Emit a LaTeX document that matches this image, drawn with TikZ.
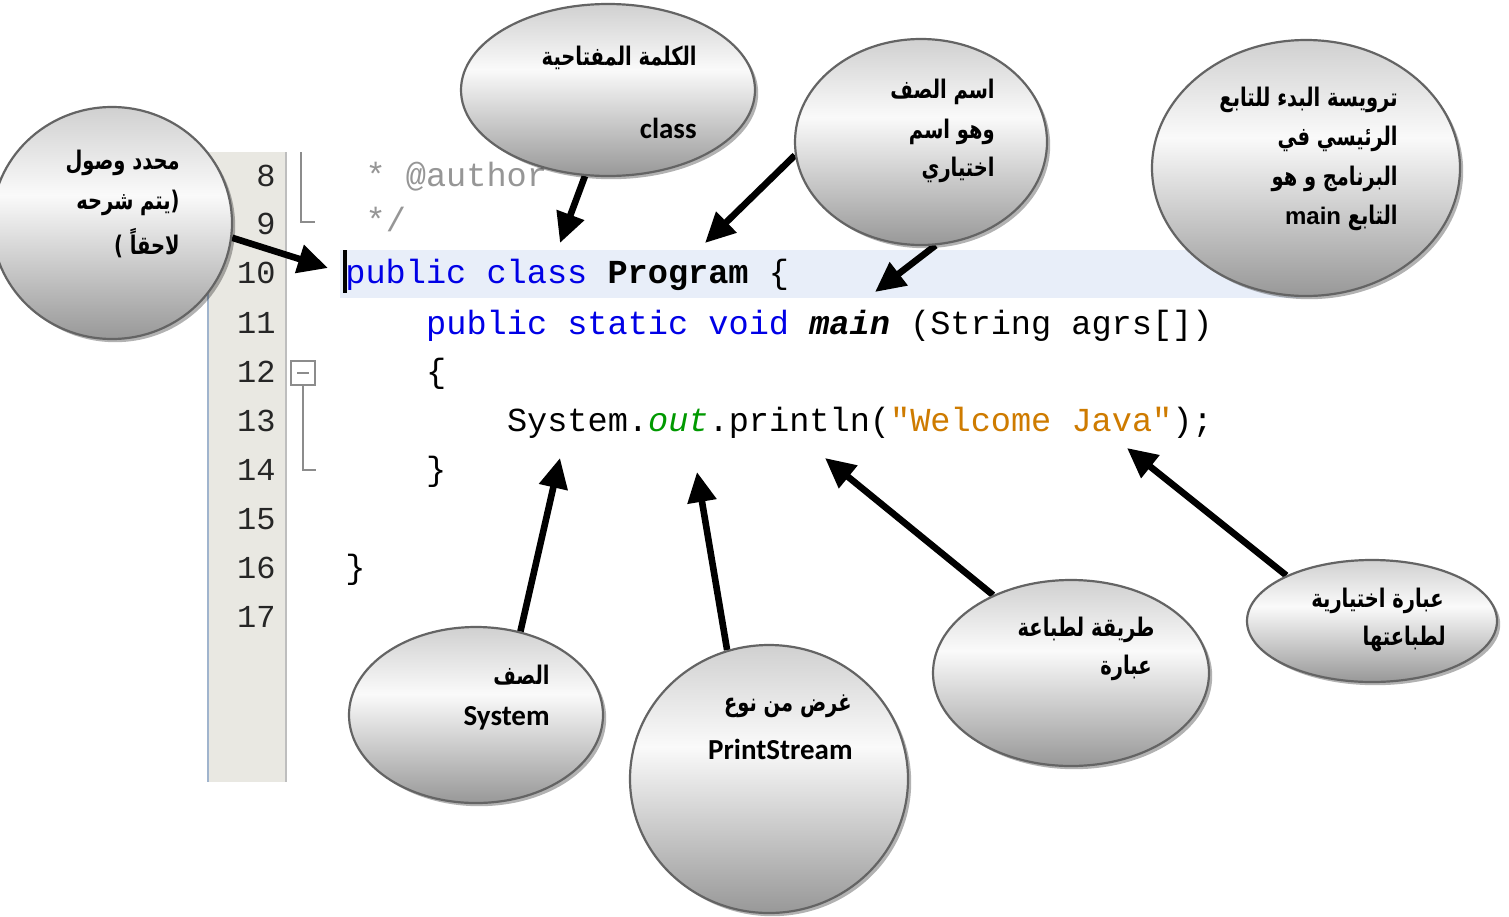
\documentclass[tikz,border=0pt]{standalone}
\usepackage{fontspec}
\usetikzlibrary{shapes.geometric,arrows.meta,shadows}
\TeXXeTstate=1
\newfontfamily\arabicfont[Script=Arabic,FakeStretch=0.76]{DejaVu Sans}
\newfontfamily\calfont{Carlito}
\newfontfamily\arialfont{Liberation Sans}
\newfontfamily\codefont[Ligatures=TeXOff]{Liberation Mono}

\definecolor{kw}{RGB}{0,0,230}
\definecolor{strc}{RGB}{206,123,0}
\definecolor{grn}{RGB}{0,153,0}
\definecolor{cmt}{RGB}{150,150,150}
\definecolor{band}{RGB}{232,238,249}
\definecolor{gutter}{RGB}{233,232,226}
\definecolor{gutteredge}{RGB}{190,190,190}
\definecolor{gutterleft}{RGB}{160,180,205}
\definecolor{foldc}{RGB}{140,140,140}
\definecolor{bedge}{RGB}{100,100,100}
\definecolor{bbot}{RGB}{152,152,152}
\definecolor{bmid}{RGB}{250,250,250}
\definecolor{btop}{RGB}{208,208,208}

\pgfdeclareverticalshading{bubble}{100bp}{color(0bp)=(bbot); color(25bp)=(bbot); color(56bp)=(bmid); color(75bp)=(btop); color(100bp)=(btop)}

\pgfdeclarelayer{editor}
\pgfdeclarelayer{links}
\pgfsetlayers{editor,links,main}

\newcommand\artext[1]{{\arabicfont\bfseries\fontsize{12.8}{15}\selectfont\beginR #1\endR}}
\newcommand\caltext[1]{{\calfont\bfseries\fontsize{14.5}{17}\selectfont #1}}
\newcommand\arialtext[1]{{\arialfont\bfseries\fontsize{12}{14}\selectfont #1}}

\tikzset{
  bubble/.style={ellipse, draw=bedge, line width=1.1pt, shading=bubble, inner sep=0pt,
    drop shadow={shadow xshift=1.6pt, shadow yshift=-1.6pt, fill=black, opacity=0.3}},
  lab/.style={inner sep=0pt, anchor=east},
  code/.style={inner sep=0pt, anchor=base west, font=\codefont\fontsize{16.8}{20}\selectfont},
  lnum/.style={inner sep=0pt, anchor=base east, text=black!85, font=\codefont\fontsize{16}{20}\selectfont},
  fold/.style={draw=foldc, line width=0.6pt},
  arr/.style={line width=3.3pt, -{Triangle[length=15pt,width=14pt]}}
}

\begin{document}
\begin{tikzpicture}[x=0.5pt,y=-0.5pt]
  \begin{pgfonlayer}{editor}
  % page
  \fill[white] (0,0) rectangle (1509,916);

  % editor gutter
  \fill[gutter] (208,152) rectangle (286,782);
  \draw[gutterleft, line width=0.8pt] (208,152) -- (208,782);
  \draw[gutteredge, line width=0.8pt] (286,152) -- (286,782);

  % current line highlight and caret
  \fill[band] (340,250) rectangle (1300,298);
  \draw[line width=2.4pt] (345,250) -- (345,293);

  % line numbers
  \foreach \n/\yy in {8/177,9/225,10/274,11/324,12/373,13/422,14/471,15/520,16/569,17/618}
    \node[lnum] (ln\n) at (276,\yy+9) {\n};

  % fold markers
  \draw[fold] (301,152) |- (315,222);
  \node[draw=foldc, fill=white, line width=0.6pt, minimum size=12pt, inner sep=0pt] (fb) at (303,373) {};
  \draw[fold] (297,373) -- (309,373);
  \draw[fold] (fb.south) |- (316,470);

  % source code
  \node[code] (c8)  at (365.2,186) {\textcolor{cmt}{* @author}};
  \node[code] (c9)  at (365.2,231) {\textcolor{cmt}{*/}};
  \node[code] (c10) at (345,283) {\textcolor{kw}{public class} \textbf{Program} \{};
  \node[code] (c11) at (425.8,334) {\textcolor{kw}{public static void} \textbf{\textit{main}} (String agrs[])};
  \node[code] (c12) at (425.8,382) {\{};
  \node[code] (c13) at (506.6,431) {System.\textcolor{grn}{\textit{out}}.println(\textcolor{strc}{"Welcome Java"});};
  \node[code] (c14) at (425.8,480) {\}};
  \node[code] (c16) at (345,578) {\}};
  \end{pgfonlayer}
  \useasboundingbox (0,0) rectangle (1509,916);

  % arrow tips
  \coordinate (tip1) at (328,268);
  \coordinate (tip2) at (560,243);
  \coordinate (tip3) at (705,243);
  \coordinate (tip4) at (875,292);
  \coordinate (tip5) at (560,458);
  \coordinate (tip6) at (697,472);
  \coordinate (tip7) at (825,458);
  \coordinate (tip8) at (1127,448);

  % callout bubbles
  \path
    (112,223)  node[bubble, minimum width=120pt, minimum height=116pt] (e1) {}
    (608,90)   node[bubble, minimum width=147pt, minimum height=86pt]  (e2) {}
    (921,142)  node[bubble, minimum width=126pt, minimum height=103pt] (e3) {}
    (1306,168) node[bubble, minimum width=154pt, minimum height=128pt] (e4) {}
    (476,715)  node[bubble, minimum width=127pt, minimum height=88pt]  (e5) {}
    (769,779)  node[bubble, minimum width=139pt, minimum height=134pt] (e6) {}
    (1071,673) node[bubble, minimum width=138pt, minimum height=93pt]  (e7) {}
    (1372,621) node[bubble, minimum width=125pt, minimum height=61pt]  (e8) {};

  % arrows, kept beneath the bubbles
  \begin{pgfonlayer}{links}
  \draw[arr] (e1.-7)   -- (tip1);
  \draw[arr] (e2.-105) -- (tip2);
  \draw[arr] (e3.186)  -- (tip3);
  \draw[arr] (e3.-82)  -- (tip4);
  \draw[arr] (e5.62)   -- (tip5);
  \draw[arr] (e6.108)  -- (tip6);
  \draw[arr] (e7.135)  -- (tip7);
  \draw[arr] (e8.152)  -- (tip8);
  \end{pgfonlayer}

  % labels
  \node[lab] (t1a) at (180,163) {\artext{محدد وصول}};
  \node[lab] (t1b) at (180,203) {\artext{(يتم شرحه}};
  \node[lab] (t1c) at (180,243) {\artext{لاحقاً )}};

  \node[lab] (t2a) at (697,58)  {\artext{الكلمة المفتاحية}};
  \node[lab] (t2b) at (697,128) {\caltext{class}};

  \node[lab] (t3a) at (995,92)  {\artext{اسم الصف}};
  \node[lab] (t3b) at (995,132) {\artext{وهو اسم}};
  \node[lab] (t3c) at (995,170) {\artext{اختياري}};

  \node[lab] (t4a) at (1398,100) {\artext{ترويسة البدء للتابع}};
  \node[lab] (t4b) at (1398,139) {\artext{الرئيسي في}};
  \node[lab] (t4c) at (1398,179) {\artext{البرنامج و هو}};
  \node[lab] (t4d) at (1398,218) {\arialtext{main} \artext{التابع}};

  \node[lab] (t5a) at (550,675) {\artext{الصف}};
  \node[lab] (t5b) at (550,718) {\caltext{System}};

  \node[lab] (t6a) at (852,706) {\artext{غرض من نوع}};
  \node[lab] (t6b) at (853,749) {\caltext{PrintStream}};

  \node[lab] (t7a) at (1155,630) {\artext{طريقة لطباعة}};
  \node[lab] (t7b) at (1152,668) {\artext{عبارة}};

  \node[lab] (t8a) at (1444,601) {\artext{عبارة اختيارية}};
  \node[lab] (t8b) at (1446,639) {\artext{لطباعتها}};
\end{tikzpicture}
\end{document}
